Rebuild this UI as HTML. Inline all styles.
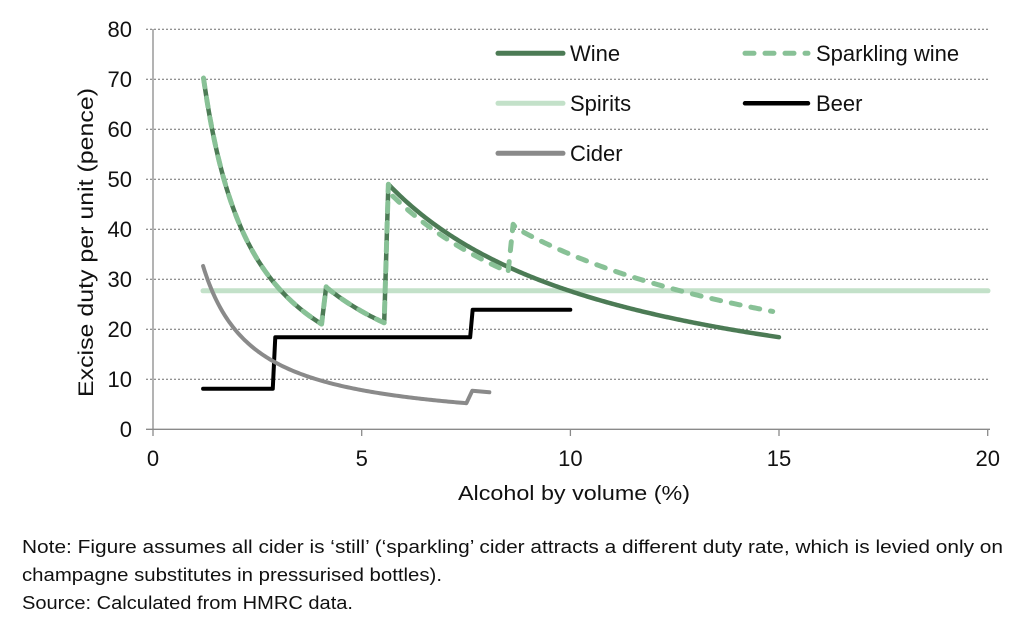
<!DOCTYPE html>
<html>
<head>
<meta charset="utf-8">
<style>
  html,body{margin:0;padding:0;background:#fff;}
  svg{display:block;}
  text{font-family:"Liberation Sans",Arial,sans-serif;fill:#111;}
</style>
</head>
<body>
<svg id="chart" width="1024" height="634" viewBox="0 0 1024 634" xmlns="http://www.w3.org/2000/svg">
  <rect x="0" y="0" width="1024" height="634" fill="#fff"/>
  <!-- gridlines -->
  <g stroke="#6f6f6f" stroke-width="1" stroke-dasharray="2,2">
    <line x1="146" y1="29.3" x2="990" y2="29.3"/>
    <line x1="146" y1="79.3" x2="990" y2="79.3"/>
    <line x1="146" y1="129.3" x2="990" y2="129.3"/>
    <line x1="146" y1="179.3" x2="990" y2="179.3"/>
    <line x1="146" y1="229.3" x2="990" y2="229.3"/>
    <line x1="146" y1="279.3" x2="990" y2="279.3"/>
    <line x1="146" y1="329.3" x2="990" y2="329.3"/>
    <line x1="146" y1="379.3" x2="990" y2="379.3"/>
  </g>
  <!-- axes -->
  <g stroke="#8a8a8a" stroke-width="1.3">
    <line x1="153" y1="29" x2="153" y2="436"/>
    <line x1="146" y1="429.3" x2="990" y2="429.3"/>
    <line x1="361.7" y1="429.3" x2="361.7" y2="436"/>
    <line x1="570.4" y1="429.3" x2="570.4" y2="436"/>
    <line x1="779" y1="429.3" x2="779" y2="436"/>
    <line x1="987.7" y1="429.3" x2="987.7" y2="436"/>
  </g>
  <!-- y tick labels -->
  <g font-size="22" text-anchor="end">
    <text x="132" y="37">80</text>
    <text x="132" y="87">70</text>
    <text x="132" y="137">60</text>
    <text x="132" y="187">50</text>
    <text x="132" y="237">40</text>
    <text x="132" y="287">30</text>
    <text x="132" y="337">20</text>
    <text x="132" y="387">10</text>
    <text x="132" y="437">0</text>
  </g>
  <!-- x tick labels -->
  <g font-size="22" text-anchor="middle">
    <text x="153" y="466">0</text>
    <text x="361.7" y="466">5</text>
    <text x="570.4" y="466">10</text>
    <text x="779" y="466">15</text>
    <text x="987.7" y="466">20</text>
  </g>
  <text x="458" y="500" font-size="20" textLength="232" lengthAdjust="spacingAndGlyphs">Alcohol by volume (%)</text>
  <text transform="translate(93,397) rotate(-90)" font-size="21" textLength="309" lengthAdjust="spacingAndGlyphs">Excise duty per unit (pence)</text>

  <!-- series -->
  <path id="spirits" d="M203,290.8 L988,290.8" stroke="#c3e1c9" stroke-width="5" fill="none" stroke-linecap="round"/>
  <path id="beer" d="" stroke="#000" stroke-width="4" fill="none" stroke-linecap="round" stroke-linejoin="round"/>
  <path id="cider" d="" stroke="#8a8a8a" stroke-width="4" fill="none" stroke-linecap="round" stroke-linejoin="round"/>
  <path id="wine" d="" stroke="#4c7b55" stroke-width="4.5" fill="none" stroke-linecap="round" stroke-linejoin="round"/>
  <path id="spark" d="" stroke="#88c196" stroke-width="5" fill="none" stroke-linecap="round" stroke-linejoin="round" stroke-dasharray="9 11"/>

  <!-- legend -->
  <g stroke-linecap="round" stroke-width="5" fill="none">
    <line x1="498" y1="53.3" x2="563" y2="53.3" stroke="#4c7b55"/>
    <line x1="745" y1="53.3" x2="808" y2="53.3" stroke="#88c196" stroke-dasharray="9 11"/>
    <line x1="498" y1="103.3" x2="563" y2="103.3" stroke="#c3e1c9"/>
    <line x1="745" y1="103.3" x2="808" y2="103.3" stroke="#000" stroke-width="4.5"/>
    <line x1="498" y1="153.3" x2="563" y2="153.3" stroke="#8a8a8a"/>
  </g>
  <g font-size="22">
    <text x="570" y="61">Wine</text>
    <text x="816" y="61">Sparkling wine</text>
    <text x="570" y="111">Spirits</text>
    <text x="816" y="111">Beer</text>
    <text x="570" y="161">Cider</text>
  </g>

  <!-- notes -->
  <g font-size="18">
    <text x="22" y="553" textLength="981" lengthAdjust="spacingAndGlyphs">Note: Figure assumes all cider is ‘still’ (‘sparkling’ cider attracts a different duty rate, which is levied only on</text>
    <text x="22" y="581" textLength="420" lengthAdjust="spacingAndGlyphs">champagne substitutes in pressurised bottles).</text>
    <text x="22" y="609" textLength="331" lengthAdjust="spacingAndGlyphs">Source: Calculated from HMRC data.</text>
  </g>
</svg>
<script>
(function(){
  function X(a){return 153+a*41.73;}
  function Y(v){return 429.3-v*5;}
  function P(a,v){return X(a).toFixed(2)+","+Y(v).toFixed(2);}
  function curve(k,a0,a1,start){
    var s="", n=Math.max(8,Math.ceil((a1-a0)/0.04));
    for(var i=0;i<=n;i++){
      var a=a0+(a1-a0)*i/n;
      s+=((i===0&&start)?"M":"L")+P(a,k/a);
    }
    return s;
  }
  var common = curve(85,1.21,4.04,true)+"L"+P(4.15,28.5)+curve(118,4.15,5.54,false)+"L"+P(5.64,49);
  var wine = common + curve(276.4,5.64,15,false);
  var spark = common + "L"+P(5.72,268/5.72) + curve(268,5.72,8.51,false) + "L"+P(8.63,41) + curve(350,8.7,14.85,false);
  var cider = curve(39.2,1.2,7.51,true)+"L"+P(7.65,7.7)+"L"+P(8.06,7.4);
  var beer = "M"+P(1.2,8.1)+"L"+P(2.87,8.1)+"L"+P(2.93,18.4)+"L"+P(7.6,18.4)+"L"+P(7.66,23.9)+"L"+P(10,23.9);
  document.getElementById("wine").setAttribute("d",wine);
  document.getElementById("spark").setAttribute("d",spark);
  document.getElementById("cider").setAttribute("d",cider);
  document.getElementById("beer").setAttribute("d",beer);
})();
</script>
</body>
</html>
